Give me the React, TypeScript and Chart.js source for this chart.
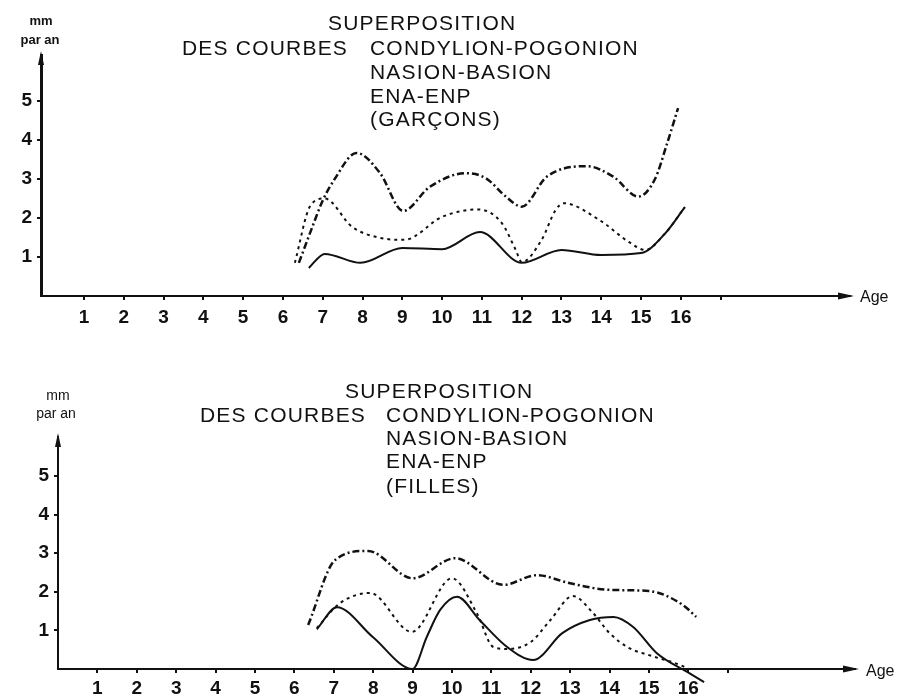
import React, { useEffect, useRef } from 'react';
import { Chart, registerables } from 'chart.js';

Chart.register(...registerables);

// ---------- tick labels ----------
const AGE_TICKS = [1, 2, 3, 4, 5, 6, 7, 8, 9, 10, 11, 12, 13, 14, 15, 16, 17];
const AGE_LABELS = ['1', '2', '3', '4', '5', '6', '7', '8', '9', '10', '11', '12', '13', '14', '15', '16', ''];
const VALUE_TICKS = [1, 2, 3, 4, 5];

// ---------- GARÇONS ----------
const gCondAges = [6.4, 6.75, 7.0, 7.3, 7.85, 8.44, 9.02, 9.69, 10.6, 11.1, 11.6, 12.0, 12.63, 13.63, 14.3, 14.93, 15.35, 15.65, 15.93];
const gCondValues = [0.85, 1.8, 2.45, 3.0, 3.67, 3.15, 2.18, 2.8, 3.15, 3.02, 2.55, 2.29, 3.06, 3.33, 3.06, 2.55, 3.0, 3.9, 4.82];

const gNasAges = [6.3, 6.68, 7.05, 7.74, 8.4, 9.05, 10.0, 10.9, 11.5, 11.85, 12.0, 12.5, 12.85, 13.05, 13.95, 14.7, 15.1, 15.6, 16.1];
const gNasValues = [0.85, 2.3, 2.5, 1.77, 1.5, 1.44, 2.03, 2.22, 1.87, 1.18, 0.87, 1.44, 2.2, 2.38, 1.95, 1.38, 1.18, 1.6, 2.28];

const gEnaAges = [6.65, 7.05, 7.95, 9.0, 10.0, 10.95, 12.0, 13.0, 14.0, 15.0, 15.6, 16.1];
const gEnaValues = [0.72, 1.08, 0.85, 1.23, 1.2, 1.64, 0.85, 1.18, 1.05, 1.1, 1.6, 2.28];

// ---------- FILLES ----------
const fCondAges = [6.35, 7.03, 7.87, 9.0, 10.08, 11.3, 12.15, 13.0, 14.0, 15.0, 15.86, 16.2];
const fCondValues = [1.14, 2.82, 3.06, 2.35, 2.87, 2.18, 2.43, 2.22, 2.05, 2.02, 1.66, 1.35];

const fNasAges = [6.57, 7.15, 7.92, 8.98, 10.0, 10.63, 11.05, 11.4, 12.0, 12.5, 13.07, 13.58, 14.0, 14.5, 15.0, 15.8, 16.0];
const fNasValues = [1.06, 1.7, 1.97, 0.96, 2.35, 1.45, 0.57, 0.52, 0.7, 1.27, 1.89, 1.45, 0.93, 0.54, 0.36, 0.1, 0.0];

const fEnaAges = [6.57, 7.08, 7.99, 9.0, 9.36, 9.7, 10.13, 10.7, 11.4, 12.06, 12.8, 13.5, 14.1, 14.6, 15.2, 15.96, 16.4];
const fEnaValues = [1.03, 1.6, 0.83, 0.0, 0.83, 1.53, 1.87, 1.27, 0.57, 0.23, 0.93, 1.27, 1.35, 1.09, 0.41, -0.07, -0.34];

// ---------- texts ----------
const TITLE_TOP = 'SUPERPOSITION';
const TITLE_LEFT = 'DES COURBES';
const SERIES_NAMES = ['CONDYLION-POGONION', 'NASION-BASION', 'ENA-ENP'];
const GROUP_BOYS = '(GARÇONS)';
const GROUP_GIRLS = '(FILLES)';
const Y_UNIT = ['mm', 'par an'];
const X_UNIT = 'Age';

const FONT = '"Liberation Sans", Arial, Helvetica, sans-serif';

function pts(ages: number[], values: number[]) {
  return ages.map((a, i) => ({ x: a, y: values[i] }));
}

const arrowPlugin = {
  id: 'axisArrows',
  afterDraw(chart: any) {
    const { ctx, chartArea } = chart;
    const { left, right, top, bottom } = chartArea;
    ctx.save();
    ctx.fillStyle = '#111';
    ctx.beginPath();
    ctx.moveTo(right + 4, bottom);
    ctx.lineTo(right - 12, bottom - 3.5);
    ctx.lineTo(right - 12, bottom + 3.5);
    ctx.closePath();
    ctx.fill();
    ctx.beginPath();
    ctx.moveTo(left, top - 4);
    ctx.lineTo(left - 3, top + 10);
    ctx.lineTo(left + 3, top + 10);
    ctx.closePath();
    ctx.fill();
    ctx.restore();
  },
};

interface PanelProps {
  top: number;
  height: number;
  axisLeft: number;
  axisBottom: number; // canvas-relative
  chartTop: number;
  chartRight: number;
  xMin: number;
  xMax: number;
  yMax: number;
  yAxisWidth: number;
  xAxisWidth: number;
  tickPadX: number;
  cond: { x: number; y: number }[];
  nas: { x: number; y: number }[];
  ena: { x: number; y: number }[];
}

function Panel(p: PanelProps) {
  const ref = useRef<HTMLCanvasElement>(null);
  useEffect(() => {
    if (!ref.current) return;
    const W = 901;
    const tickFont = { family: FONT, size: 19, weight: 'bold' as const };
    const chart = new Chart(ref.current, {
      type: 'line',
      data: {
        datasets: [
          {
            label: SERIES_NAMES[0],
            data: p.cond,
            borderColor: '#111',
            borderWidth: 2.5,
            borderDash: [7, 3, 2, 3],
            pointRadius: 0,
            cubicInterpolationMode: 'monotone',
            fill: false,
            clip: false as any,
          },
          {
            label: SERIES_NAMES[1],
            data: p.nas,
            borderColor: '#111',
            borderWidth: 2,
            borderDash: [3, 4],
            pointRadius: 0,
            cubicInterpolationMode: 'monotone',
            fill: false,
            clip: false as any,
          },
          {
            label: SERIES_NAMES[2],
            data: p.ena,
            borderColor: '#111',
            borderWidth: 2,
            pointRadius: 0,
            cubicInterpolationMode: 'monotone',
            fill: false,
            clip: false as any,
          },
        ],
      },
      options: {
        animation: false,
        responsive: false,
        maintainAspectRatio: false,
        devicePixelRatio: 1,
        layout: {
          padding: { top: p.chartTop, right: W - p.chartRight, left: 0, bottom: 0 },
        },
        plugins: {
          legend: { display: false },
          tooltip: { enabled: false },
          title: { display: false },
        },
        scales: {
          x: {
            type: 'linear',
            min: p.xMin,
            max: p.xMax,
            afterFit: (s: any) => {
              s.height = p.height - p.axisBottom;
            },
            afterBuildTicks: (s: any) => {
              s.ticks = AGE_TICKS.map((v) => ({ value: v }));
            },
            ticks: {
              autoSkip: false,
              maxRotation: 0,
              color: '#111',
              font: tickFont,
              padding: p.tickPadX,
              callback: (v: any) => {
                const i = AGE_TICKS.indexOf(Number(v));
                return i >= 0 ? AGE_LABELS[i] : '';
              },
            },
            grid: {
              drawOnChartArea: false,
              drawTicks: true,
              tickLength: 4,
              color: '#111',
              lineWidth: 2,
            },
            border: { display: true, color: '#111', width: p.xAxisWidth },
          },
          y: {
            type: 'linear',
            min: 0,
            max: p.yMax,
            afterFit: (s: any) => {
              s.width = p.axisLeft;
            },
            afterBuildTicks: (s: any) => {
              s.ticks = VALUE_TICKS.map((v) => ({ value: v }));
            },
            ticks: {
              color: '#111',
              font: tickFont,
              padding: 5,
              callback: (v: any) => String(v),
            },
            grid: {
              drawOnChartArea: false,
              drawTicks: true,
              tickLength: 4,
              color: '#111',
              lineWidth: 2,
            },
            border: { display: true, color: '#111', width: p.yAxisWidth },
          },
        },
      },
      plugins: [arrowPlugin],
    });
    return () => chart.destroy();
  }, []);
  return (
    <canvas
      ref={ref}
      width={901}
      height={p.height}
      style={{ position: 'absolute', left: 0, top: p.top, width: 901, height: p.height }}
    />
  );
}

function Txt(props: { x: number; y: number; size: number; bold?: boolean; spacing?: number; center?: boolean; children: React.ReactNode }) {
  return (
    <div
      style={{
        position: 'absolute',
        left: props.x,
        top: props.y,
        transform: props.center ? 'translate(-50%, -50%)' : 'translateY(-50%)',
        fontFamily: FONT,
        fontSize: props.size,
        fontWeight: props.bold ? 'bold' : 'normal',
        letterSpacing: props.spacing ?? 0,
        lineHeight: 1,
        whiteSpace: 'nowrap',
        color: '#111',
      }}
    >
      {props.children}
    </div>
  );
}

export default function App() {
  return (
    <div style={{ position: 'absolute', left: 0, top: 0, width: 901, height: 698, background: '#fff', overflow: 'hidden' }}>
      <Panel
        top={0}
        height={335}
        axisLeft={41}
        axisBottom={296}
        chartTop={55}
        chartRight={850}
        xMin={-0.08}
        xMax={20.25}
        yMax={6.18}
        yAxisWidth={3}
        xAxisWidth={2}
        tickPadX={6}
        cond={pts(gCondAges, gCondValues)}
        nas={pts(gNasAges, gNasValues)}
        ena={pts(gEnaAges, gEnaValues)}
      />
      <Panel
        top={335}
        height={363}
        axisLeft={58}
        axisBottom={334}
        chartTop={102}
        chartRight={855}
        xMin={0}
        xMax={20.23}
        yMax={6.01}
        yAxisWidth={2}
        xAxisWidth={2}
        tickPadX={4}
        cond={pts(fCondAges, fCondValues)}
        nas={pts(fNasAges, fNasValues)}
        ena={pts(fEnaAges, fEnaValues)}
      />

      {/* top panel texts */}
      <Txt x={41} y={20} size={13} bold center>{Y_UNIT[0]}</Txt>
      <Txt x={40} y={39} size={13} bold center>{Y_UNIT[1]}</Txt>
      <Txt x={328} y={22} size={21} spacing={1.2}>{TITLE_TOP}</Txt>
      <Txt x={182} y={47} size={21} spacing={1.2}>{TITLE_LEFT}</Txt>
      <Txt x={370} y={47} size={21} spacing={1.2}>{SERIES_NAMES[0]}</Txt>
      <Txt x={370} y={71} size={21} spacing={1.2}>{SERIES_NAMES[1]}</Txt>
      <Txt x={370} y={95} size={21} spacing={1.2}>{SERIES_NAMES[2]}</Txt>
      <Txt x={370} y={118} size={21} spacing={1.2}>{GROUP_BOYS}</Txt>
      <Txt x={860} y={297} size={16}>{X_UNIT}</Txt>

      {/* bottom panel texts */}
      <Txt x={58} y={395} size={14} center>{Y_UNIT[0]}</Txt>
      <Txt x={56} y={413} size={14} center>{Y_UNIT[1]}</Txt>
      <Txt x={345} y={390} size={21} spacing={1.2}>{TITLE_TOP}</Txt>
      <Txt x={200} y={414} size={21} spacing={1.2}>{TITLE_LEFT}</Txt>
      <Txt x={386} y={414} size={21} spacing={1.2}>{SERIES_NAMES[0]}</Txt>
      <Txt x={386} y={437} size={21} spacing={1.2}>{SERIES_NAMES[1]}</Txt>
      <Txt x={386} y={460} size={21} spacing={1.2}>{SERIES_NAMES[2]}</Txt>
      <Txt x={386} y={485} size={21} spacing={1.2}>{GROUP_GIRLS}</Txt>
      <Txt x={866} y={671} size={16}>{X_UNIT}</Txt>
    </div>
  );
}
